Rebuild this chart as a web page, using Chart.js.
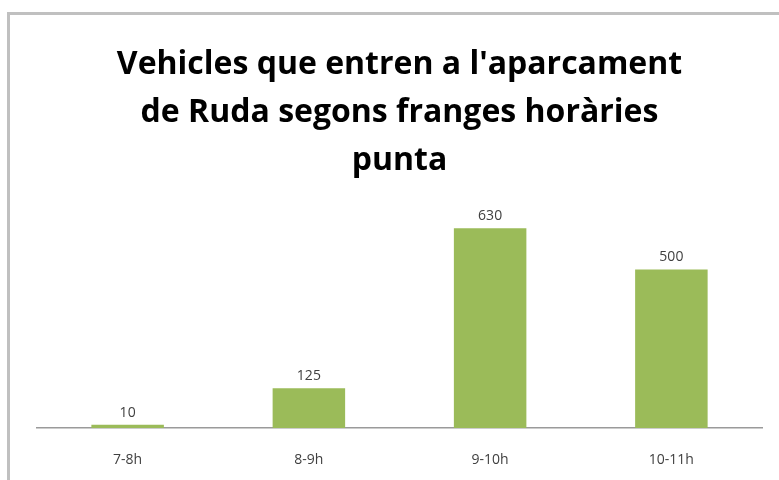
<!DOCTYPE html>
<html>
<head>
<meta charset="utf-8">
<script src="https://cdn.jsdelivr.net/npm/chart.js@4"></script>
<style>
  html, body { margin: 0; padding: 0; background: #fff; }
  #wrap { position: relative; width: 779px; height: 480px; overflow: hidden; }
  #frame { position: absolute; left: 7px; top: 12px; width: 800px; height: 500px; border: 3px solid #c0c0c0; box-sizing: border-box; }
  #chart { position: absolute; left: 0; top: 0; }
</style>
</head>
<body>
<div id="wrap">
  <div id="frame"></div>
  <canvas id="chart" width="779" height="480"></canvas>
</div>
<script>
const categories = ['7-8h', '8-9h', '9-10h', '10-11h'];
const vehicles = [10, 125, 630, 500];
const titleLines = ["Vehicles que entren a l'aparcament", 'de Ruda segons franges horàries', 'punta'];

// draws the value above each bar (no datalabels plugin offline)
const valueLabels = {
    id: 'valueLabels',
    afterDatasetsDraw(chart) {
        const ctx = chart.ctx;
        ctx.save();
        ctx.font = '14px "Open Sans"';
        ctx.fillStyle = '#404040';
        ctx.textAlign = 'center';
        ctx.textBaseline = 'bottom';
        chart.getDatasetMeta(0).data.forEach((bar, i) => {
            ctx.fillText(chart.data.datasets[0].data[i], bar.x, bar.y - 5);
        });
        ctx.restore();
    }
};

new Chart(document.getElementById('chart').getContext('2d'), {
    type: 'bar',
    data: {
        labels: categories,
        datasets: [{
            data: vehicles,
            backgroundColor: '#9bbb59',
            barPercentage: 0.4,
            categoryPercentage: 1
        }]
    },
    plugins: [valueLabels],
    options: {
        responsive: false,
        animation: false,
        layout: {
            padding: { left: 37, right: 17, top: 0, bottom: 0 }
        },
        scales: {
            x: {
                grid: { display: false, drawTicks: false },
                border: { display: true, color: '#9a9a9a', width: 1.5 },
                ticks: {
                    padding: 24,
                    color: '#404040',
                    font: { family: 'Open Sans', size: 14 }
                },
                afterFit(scale) { scale.height = 52; }
            },
            y: {
                display: false,
                min: 0,
                max: 700
            }
        },
        plugins: {
            legend: { display: false },
            tooltip: { enabled: false },
            title: {
                display: true,
                text: titleLines,
                color: '#000',
                font: { family: 'Open Sans', size: 32, weight: 'bold', lineHeight: 1.5 },
                padding: { top: 41, bottom: 21 }
            }
        }
    }
});
</script>
</body>
</html>
